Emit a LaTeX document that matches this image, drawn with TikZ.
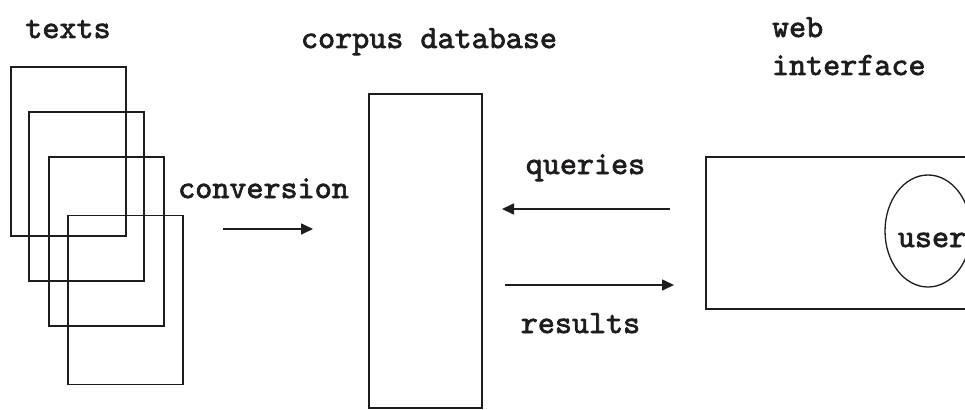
\documentclass[tikz,border=0pt]{standalone}
\usepackage{fontspec}
\usetikzlibrary{arrows.meta,shapes.geometric}
\newfontfamily\labelfont{lmmono10-regular.otf}[FakeBold=2.2]
\definecolor{ink}{RGB}{30,28,28}
\begin{document}
\begin{tikzpicture}[x=1pt,y=-1pt,
  every node/.style={inner sep=0pt,outer sep=0pt},
  label/.style={font=\fontsize{32.5}{35}\selectfont\labelfont,text=ink},
  box/.style={draw=ink,line width=1.6pt,rectangle},
  doc/.style={box,minimum width=115pt,minimum height=169pt},
  flow/.style={draw=ink,line width=1.6pt,-{Triangle[length=12pt,width=11pt]}}]
\clip (0,0) rectangle (965,409);

% stack of text documents
\node[doc] (t1) at (68.5,151.5) {};
\node[doc] (t2) at (86.5,196.5) {};
\node[doc] (t3) at (106.5,241.5) {};
\node[doc] (t4) at (125.5,300) {};
\node[label,anchor=base] (ltexts) at (68,38) {texts};

% corpus database
\node[box,minimum width=113pt,minimum height=314pt] (db) at (425.5,251) {};
\node[label,anchor=base] (ldb) at (429,48) {corpus database};

% web interface with the user
\node[box,minimum width=300pt,minimum height=152pt,anchor=north west] (web) at (706,157) {};
\node[draw=ink,line width=1.3pt,ellipse,minimum width=86pt,minimum height=112pt] (user) at (928,231) {};
\node[label,anchor=base] (luser) at (932,247) {user};
\node[label,anchor=base west] (lweb) at (772,37) {web};
\node[label,anchor=base west] (lif) at (772,75) {interface};

% conversion arrow
\coordinate (c1) at (223,229);
\coordinate (c2) at (313,229);
\draw[flow] (c1) -- (c2);
\node[label,anchor=base] (lconv) at (263.5,198) {conversion};

% queries and results
\coordinate (q1) at (670,209);
\coordinate (q2) at (502,209);
\draw[flow] (q1) -- (q2);
\node[label,anchor=base] (lq) at (585.5,174) {queries};

\coordinate (r1) at (505,285);
\coordinate (r2) at (674,285);
\draw[flow] (r1) -- (r2);
\node[label,anchor=base] (lr) at (580.5,333) {results};
\end{tikzpicture}
\end{document}
